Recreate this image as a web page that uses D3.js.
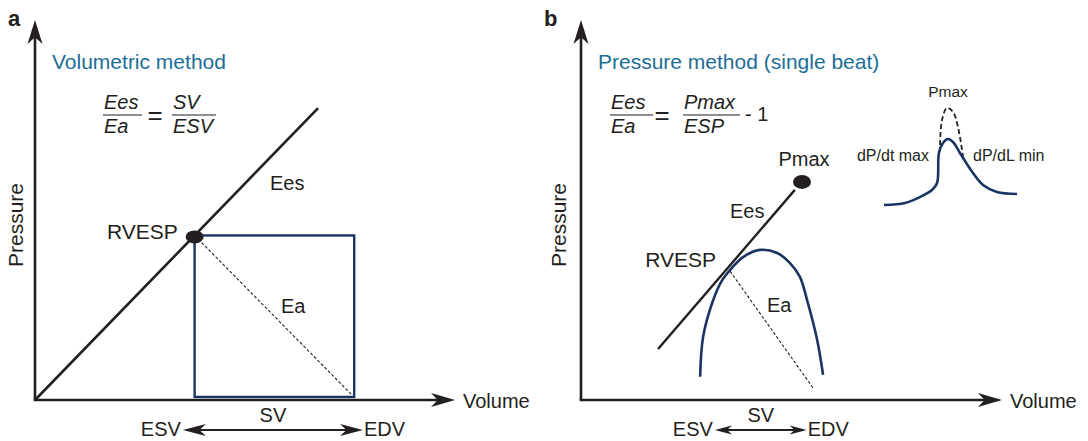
<!DOCTYPE html>
<html><head><meta charset="utf-8">
<script src="https://cdn.jsdelivr.net/npm/d3@7"></script>
<style>
body{margin:0;background:#fff}
svg{display:block}
text{font-family:"Liberation Sans",Arial,Helvetica,sans-serif;fill:#231f20}
</style>
</head><body>
<svg id="c" width="1088" height="441"></svg>
<script>
// ---------- data ----------
const panelLabels = ["a", "b"];
const panelTitles = ["Volumetric method", "Pressure method (single beat)"];
const xAxisLabel = "Volume";
const yAxisLabel = "Pressure";

// panel a (volume %, pressure %)
const eesLineA = [[0, 0], [67.4, 76.8]];
const rvespA = [38, 43.3];
const edvA = 76;
const boxBottomA = 0.8;
const svArrowA = [35.2, 78.1];

// panel b
const eesLineB = [[18.3, 13.4], [50.8, 55.3]];
const pmaxB = [52.5, 57.4];
const loopB = [[28.3, 6.1], [29.0, 16.6], [31.3, 26.0], [33.4, 31.3], [35.4, 34.2], [38.5, 37.6],
  [42.5, 39.5], [46.6, 38.7], [49.6, 36.1], [52.0, 32.4], [53.7, 26.3], [56.1, 15.8], [57.5, 6.6]];
const eaLineB = [[35.4, 33.9], [55.1, 3.2]];
const rvespB = [35.4, 34.2];
const svArrowB = [31.8, 53.6];

// inset pressure trace (time %, pressure %)
const insetSolid = [[0, 1], [15.7, 3], [26.9, 9], [35.8, 16], [39.6, 23], [41, 53], [44, 63], [47.8, 67],
  [51.5, 64], [56.7, 53], [66.4, 33], [73.9, 21], [84.3, 14], [99.3, 12]];
const insetDashed = [[41.8, 61], [43.3, 86], [47, 98], [51.5, 94], [55.2, 79], [59, 49]];
const insetLabels = ["Pmax", "dP/dt max", "dP/dL min"];

// ---------- drawing ----------
const svg = d3.select("#c");
const INK = "#231f20", NAVY = "#1a3563", TEAL = "#1c6e97";

const xa = d3.scaleLinear([0, 100], [35, 455]);
const ya = d3.scaleLinear([0, 100], [400, 20]);
const xb = d3.scaleLinear([0, 100], [581, 1002]);
const yb = d3.scaleLinear([0, 100], [400, 20]);
const xi = d3.scaleLinear([0, 100], [884, 1018]);
const yi = d3.scaleLinear([0, 100], [206, 106]);

function head(g, x, y, angle, len, hw) {
  g.append("path")
    .attr("d", `M0,0 L${-len},${-hw} L${-len * 0.72},0 L${-len},${hw} Z`)
    .attr("transform", `translate(${x},${y}) rotate(${angle})`)
    .attr("fill", INK);
}
function txt(x, y, s, size, opts = {}) {
  const t = svg.append("text").attr("x", x).attr("y", y).text(s)
    .attr("font-size", size);
  if (opts.anchor) t.attr("text-anchor", opts.anchor);
  if (opts.italic) t.attr("font-style", "italic");
  if (opts.bold) t.attr("font-weight", "bold");
  if (opts.fill) t.style("fill", opts.fill);
  return t;
}
function axes(xs, ys, px) {
  const g = svg.append("g");
  g.append("line").attr("x1", xs(0)).attr("y1", ys(0)).attr("x2", xs(0)).attr("y2", ys(100) + 10)
    .attr("stroke", INK).attr("stroke-width", 2.6);
  g.append("line").attr("x1", xs(0) - 1.3).attr("y1", ys(0)).attr("x2", xs(100) - 10).attr("y2", ys(0))
    .attr("stroke", INK).attr("stroke-width", 2.6);
  head(g, xs(0), ys(100), -90, 24, 7.5);
  head(g, xs(100), ys(0), 0, 24, 7);
  txt(xs(100) + 8, ys(0) + 8, xAxisLabel, 20);
  svg.append("text").attr("transform", `translate(${px},267) rotate(-90)`)
    .attr("font-size", 21).text(yAxisLabel);
}
function frac(x, num, den, w) {
  txt(x, 109, num, 20, { italic: true });
  txt(x, 133, den, 20, { italic: true });
  svg.append("line").attr("x1", x - 1).attr("x2", x + w).attr("y1", 115).attr("y2", 115)
    .attr("stroke", INK).attr("stroke-width", 1.2);
}
function svArrow(xs, range, len, hw) {
  const y = 430;
  const g = svg.append("g");
  g.append("line").attr("x1", xs(range[0]) + 8).attr("x2", xs(range[1]) - 8)
    .attr("y1", y).attr("y2", y).attr("stroke", INK).attr("stroke-width", 2);
  head(g, xs(range[0]), y, 180, len, hw);
  head(g, xs(range[1]), y, 0, len, hw);
  txt(xs(range[0]) - 2, y + 6, "ESV", 20, { anchor: "end" });
  txt(xs(range[1]) + 1, y + 6, "EDV", 20);
  txt((xs(range[0]) + xs(range[1])) / 2, y - 8, "SV", 20, { anchor: "middle" });
}
const line = (xs, ys) => d3.line().x(d => xs(d[0])).y(d => ys(d[1]));

// ----- panel a -----
txt(8, 26, panelLabels[0], 22, { bold: true });
txt(52, 69, panelTitles[0], 21, { fill: TEAL });
frac(104, "Ees", "Ea", 38);
txt(155, 124, "=", 26, { anchor: "middle" });
frac(173, "SV", "ESV", 43);

svg.append("rect")
  .attr("x", xa(rvespA[0])).attr("y", ya(rvespA[1]))
  .attr("width", xa(edvA) - xa(rvespA[0])).attr("height", ya(boxBottomA) - ya(rvespA[1]))
  .attr("fill", "none").attr("stroke", NAVY).attr("stroke-width", 2.4);
svg.append("path").attr("d", line(xa, ya)([rvespA, [edvA - 0.7, boxBottomA + 0.7]]))
  .attr("stroke", INK).attr("stroke-width", 1.1).attr("stroke-dasharray", "3,2").attr("fill", "none");
axes(xa, ya, 23);
svg.append("path").attr("d", line(xa, ya)(eesLineA))
  .attr("stroke", INK).attr("stroke-width", 2.6).attr("fill", "none");
svg.append("ellipse").attr("cx", xa(rvespA[0])).attr("cy", ya(rvespA[1]) + 1.5)
  .attr("rx", 9).attr("ry", 6.5).attr("fill", INK);
txt(107, 239, "RVESP", 21);
txt(270, 190, "Ees", 20);
txt(281, 313, "Ea", 20);
svArrow(xa, svArrowA, 23, 6);

// ----- panel b -----
txt(544, 26, panelLabels[1], 22, { bold: true });
txt(598, 69, panelTitles[1], 21, { fill: TEAL });
frac(611, "Ees", "Ea", 42);
txt(662, 124, "=", 26, { anchor: "middle" });
frac(684, "Pmax", "ESP", 56);
txt(745, 121, "- 1", 20);

axes(xb, yb, 566);
svg.append("path").attr("d", line(xb, yb).curve(d3.curveCatmullRom.alpha(0.5))(loopB))
  .attr("stroke", NAVY).attr("stroke-width", 2.6).attr("fill", "none");
svg.append("path").attr("d", line(xb, yb)(eaLineB))
  .attr("stroke", INK).attr("stroke-width", 1.1).attr("stroke-dasharray", "3,2").attr("fill", "none");
svg.append("path").attr("d", line(xb, yb)(eesLineB))
  .attr("stroke", INK).attr("stroke-width", 2.4).attr("fill", "none");
svg.append("ellipse").attr("cx", xb(pmaxB[0])).attr("cy", yb(pmaxB[1]))
  .attr("rx", 9).attr("ry", 7).attr("fill", INK);
txt(xb(pmaxB[0]) + 2, yb(pmaxB[1]) - 16, "Pmax", 20, { anchor: "middle" });
txt(730, 218, "Ees", 20);
txt(xb(rvespB[0]) - 14, yb(rvespB[1]) - 3, "RVESP", 21, { anchor: "end" });
txt(767, 312, "Ea", 20);
svArrow(xb, svArrowB, 17, 4.5);

// inset
svg.append("path").attr("d", line(xi, yi).curve(d3.curveCatmullRom.alpha(0.5))(insetDashed))
  .attr("stroke", INK).attr("stroke-width", 1.8).attr("stroke-dasharray", "5,3").attr("fill", "none");
svg.append("path").attr("d", line(xi, yi).curve(d3.curveCatmullRom.alpha(0.5))(insetSolid))
  .attr("stroke", NAVY).attr("stroke-width", 2.6).attr("fill", "none");
txt(948, 97, insetLabels[0], 15.5, { anchor: "middle" });
txt(929, 161, insetLabels[1], 16, { anchor: "end" });
txt(973, 161, insetLabels[2], 16);
</script>
</body></html>
